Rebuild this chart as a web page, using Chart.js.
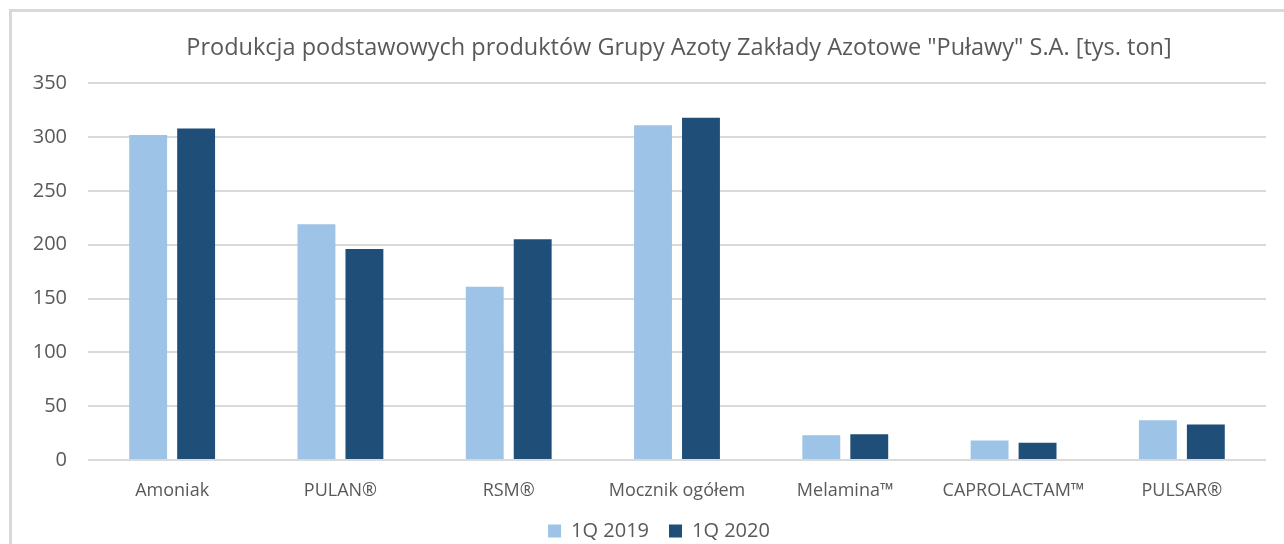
<!DOCTYPE html>
<html>
<head>
<meta charset="utf-8">
<script src="https://cdn.jsdelivr.net/npm/chart.js@4.4.0/dist/chart.umd.min.js"></script>
<style>
  body { margin: 0; background: #fff; }
  #wrap { position: relative; width: 1284px; height: 544px; }
  #frame {
    position: absolute; left: 9px; top: 9px; width: 1275px; height: 535px;
    border-left: 3px solid #d9d9d9; border-top: 3px solid #d9d9d9;
    box-sizing: border-box; pointer-events: none;
  }
  canvas { position: absolute; left: 0; top: 0; }
</style>
</head>
<body>
<div id="wrap">
  <canvas id="produkcja_chart" width="1284" height="544"></canvas>
  <div id="frame"></div>
</div>
<script>
// Produkcja podstawowych produktow - Pulawy [tys. ton]
var categories = ['Amoniak', 'PULAN®', 'RSM®', 'Mocznik ogółem', 'Melamina™', 'CAPROLACTAM™', 'PULSAR®'];
var q1_2019 = [302, 219, 161, 311, 23, 18, 37];
var q1_2020 = [308, 196, 205, 318, 24, 16, 33];
var yTicks = [0, 50, 100, 150, 200, 250, 300, 350];

var fontName = "'Open Sans', sans-serif";
var textColor = '#595959';

// move title and legend a bit to the right, like in the original picture
var shiftBoxes = {
  id: 'shiftBoxes',
  afterLayout: function (chart) {
    chart.titleBlock.left = 74;
    chart.titleBlock.right = 1284;
    chart.legend.left = 34;
    chart.legend.right = 1284;
  }
};

var ctx = document.getElementById("produkcja_chart");
var produkcjaChart = new Chart(ctx, {
  type: 'bar',
  data: {
    labels: categories,
    datasets: [{
      label: '1Q 2019',
      data: q1_2019,
      backgroundColor: '#9dc3e6',
      categoryPercentage: 0.57,
      barPercentage: 0.79
    }, {
      label: '1Q 2020',
      data: q1_2020,
      backgroundColor: '#1f4e79',
      categoryPercentage: 0.57,
      barPercentage: 0.79
    }]
  },
  options: {
    responsive: false,
    animation: false,
    layout: {
      padding: { left: 0, right: 18, top: 0, bottom: -7 }
    },
    plugins: {
      title: {
        display: true,
        text: 'Produkcja podstawowych produktów Grupy Azoty Zakłady Azotowe "Puławy" S.A. [tys. ton]',
        color: textColor,
        font: { family: fontName, size: 23.5, weight: 'normal' },
        padding: { top: 34, bottom: 21 }
      },
      legend: {
        position: 'bottom',
        labels: {
          color: textColor,
          font: { family: fontName, size: 20 },
          boxWidth: 13,
          boxHeight: 13,
          padding: 20
        }
      },
      tooltip: { enabled: false }
    },
    scales: {
      x: {
        afterFit: function (scale) {
          scale.height = 41;
        },
        grid: { display: false, drawTicks: false },
        border: { display: false },
        ticks: {
          color: textColor,
          font: { family: fontName, size: 18 },
          padding: 20,
          maxRotation: 0
        }
      },
      y: {
        min: 0,
        max: 350,
        afterBuildTicks: function (scale) {
          scale.ticks = yTicks.map(function (v) { return { value: v }; });
        },
        afterFit: function (scale) {
          scale.width = 88;
        },
        grid: { color: '#d9d9d9', lineWidth: 2, drawTicks: false },
        border: { display: false },
        ticks: {
          color: textColor,
          font: { family: fontName, size: 20 },
          padding: 21
        }
      }
    }
  },
  plugins: [shiftBoxes]
});
</script>
</body>
</html>
